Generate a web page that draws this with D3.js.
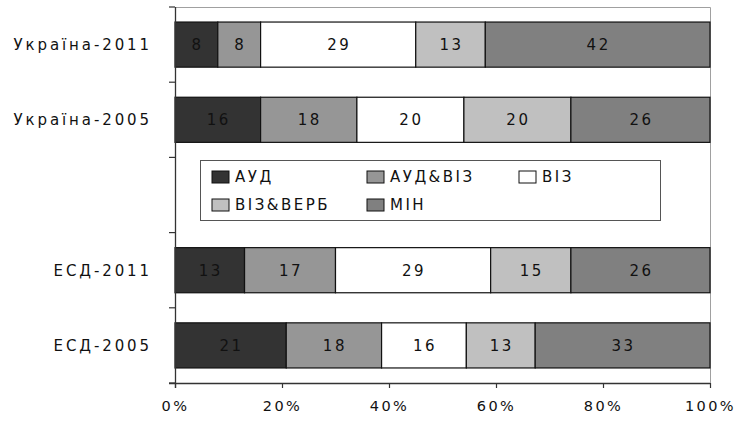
<!DOCTYPE html>
<html>
<head>
<meta charset="utf-8">
<script src="https://cdn.jsdelivr.net/npm/d3@7/dist/d3.min.js"></script>
<style>
  html, body { margin: 0; padding: 0; background: #fff; }
  svg text { font-family: "DejaVu Sans", Verdana, sans-serif; }
</style>
</head>
<body>
<svg id="chart" width="735" height="421"></svg>
<script>
// Category rows, top to bottom; "" is the empty row that holds the legend
const categories = ["Україна-2011", "Україна-2005", "", "ЕСД-2011", "ЕСД-2005"];
const seriesNames = ["АУД", "АУД&ВІЗ", "ВІЗ", "ВІЗ&ВЕРБ", "МІН"];
const seriesColors = ["#333333", "#969696", "#ffffff", "#c0c0c0", "#808080"];
const valuesAUD     = [8, 16, null, 13, 21];
const valuesAUDVIZ  = [8, 18, null, 17, 18];
const valuesVIZ     = [29, 20, null, 29, 16];
const valuesVIZVERB = [13, 20, null, 15, 13];
const valuesMIN     = [42, 26, null, 26, 33];
const xTickLabels = ["0%", "20%", "40%", "60%", "80%", "100%"];

const seriesValues = [valuesAUD, valuesAUDVIZ, valuesVIZ, valuesVIZVERB, valuesMIN];
const rows = categories.map((c, i) => {
  const r = { cat: c, empty: valuesAUD[i] == null };
  seriesNames.forEach((s, k) => { r[s] = seriesValues[k][i] == null ? 0 : seriesValues[k][i]; });
  return r;
});

const svg = d3.select("#chart");
const margin = { left: 175, right: 25, top: 7, bottom: 38 };
const W = 735, H = 421;
const x0 = margin.left, x1 = W - margin.right;
const y0 = margin.top, y1 = H - margin.bottom;

const x = d3.scaleLinear().domain([0, 1]).range([x0, x1]);
const y = d3.scaleBand().domain(d3.range(categories.length)).range([y0, y1]).paddingInner(0.4).paddingOuter(0.2);
const yOuter = d3.scaleBand().domain(d3.range(categories.length)).range([y0, y1]);

// Plot area frame (top and right edges)
svg.append("path")
  .attr("d", `M${x0},${y0 + 0.5}H${x1 + 0.5}V${y1}`)
  .attr("fill", "none").attr("stroke", "#a0a0a0").attr("stroke-width", 1);

// Stack with each row normalised to 100%
const stacked = d3.stack().keys(seriesNames).offset(d3.stackOffsetExpand)(rows);

const layers = svg.append("g").selectAll("g").data(stacked).join("g")
  .attr("fill", (d, i) => seriesColors[i]);

layers.each(function(layer, li) {
  const g = d3.select(this);
  const segs = layer.map((d, i) => ({ d, i })).filter(o => !rows[o.i].empty);
  g.selectAll("rect").data(segs).join("rect")
    .attr("x", o => x(o.d[0]))
    .attr("y", o => y(o.i))
    .attr("width", o => x(o.d[1]) - x(o.d[0]))
    .attr("height", y.bandwidth())
    .attr("stroke", "#111").attr("stroke-width", 1.2);
  g.selectAll("text").data(segs).join("text")
    .attr("x", o => (x(o.d[0]) + x(o.d[1])) / 2 + 1)
    .attr("y", o => y(o.i) + y.bandwidth() / 2)
    .attr("dy", "0.36em")
    .attr("text-anchor", "middle")
    .attr("fill", "#111")
    .attr("font-size", 15)
    .attr("letter-spacing", 2.5)
    .text(o => rows[o.i][seriesNames[li]]);
});

// Y axis: tick marks between rows, labels centred on rows
const yAxisG = svg.append("g");
yAxisG.append("line").attr("x1", x0 + 0.5).attr("x2", x0 + 0.5).attr("y1", y0).attr("y2", y1 + 5)
  .attr("stroke", "#333").attr("stroke-width", 1.3);
yAxisG.selectAll("line.tick").data(d3.range(categories.length + 1)).join("line")
  .attr("class", "tick")
  .attr("x1", x0 - 6).attr("x2", x0)
  .attr("y1", i => (i < categories.length ? yOuter(i) : y1))
  .attr("y2", i => (i < categories.length ? yOuter(i) : y1))
  .attr("stroke", "#333").attr("stroke-width", 1.2);
yAxisG.selectAll("text").data(categories).join("text")
  .attr("x", 152)
  .attr("y", (d, i) => yOuter(i) + yOuter.bandwidth() / 2)
  .attr("dy", "0.36em")
  .attr("text-anchor", "end")
  .attr("font-size", 15)
  .attr("letter-spacing", 2.9)
  .attr("fill", "#111")
  .text(d => d);

// X axis
const xAxisG = svg.append("g").attr("transform", `translate(0,${y1})`)
  .call(d3.axisBottom(x).tickValues(d3.range(0, 1.0001, 0.2)).tickSize(5)
    .tickFormat((d, i) => xTickLabels[i]));
xAxisG.select(".domain").attr("stroke", "#333").attr("stroke-width", 1.3)
  .attr("d", `M${x0 - 6},0.5H${x1}`);
xAxisG.selectAll(".tick line").attr("stroke", "#333").attr("stroke-width", 1.2);
xAxisG.selectAll(".tick text")
  .attr("y", 23).attr("dy", "0.36em")
  .attr("font-family", "DejaVu Sans, Verdana, sans-serif")
  .attr("font-size", 14.5).attr("letter-spacing", 2.4).attr("fill", "#111");

// Legend in the empty row
const legend = svg.append("g");
legend.append("rect").attr("x", 200.5).attr("y", 160.5).attr("width", 460).attr("height", 60)
  .attr("fill", "#fff").attr("stroke", "#555").attr("stroke-width", 1);
const legendPos = [[212, 177], [367, 177], [519, 177], [212, 205], [367, 205]];
seriesNames.forEach((s, i) => {
  const [lx, ly] = legendPos[i];
  legend.append("rect").attr("x", lx).attr("y", ly - 6).attr("width", 17).attr("height", 12)
    .attr("fill", seriesColors[i]).attr("stroke", "#111").attr("stroke-width", 1);
  legend.append("text").attr("x", lx + 23).attr("y", ly).attr("dy", "0.36em")
    .attr("font-size", 15).attr("letter-spacing", 2.5).attr("fill", "#111").text(s);
});
</script>
</body>
</html>
